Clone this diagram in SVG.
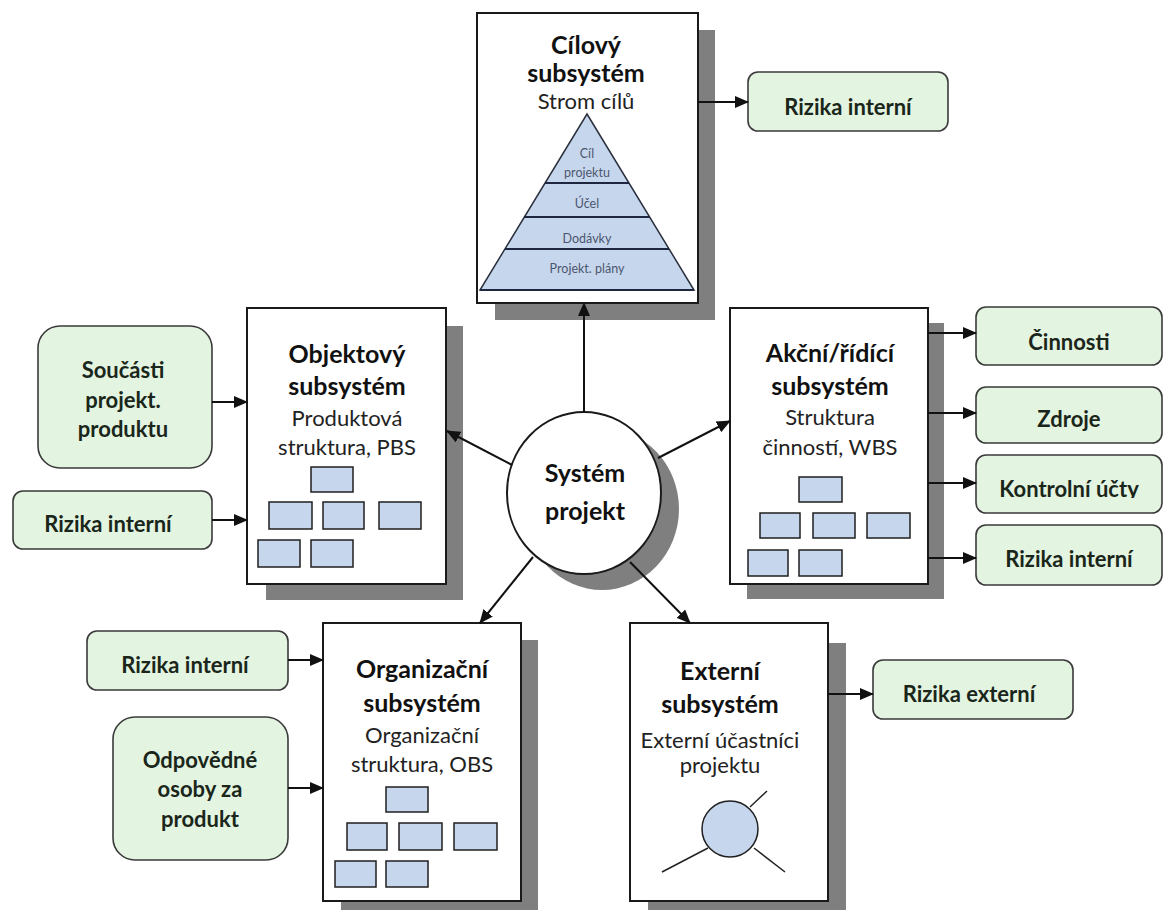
<svg xmlns="http://www.w3.org/2000/svg" width="1165" height="910" viewBox="0 0 1165 910">
  <style>
    .box { fill: #ffffff; stroke: #1a1a1a; stroke-width: 2; }
    .shadow { fill: #7f7f7f; }
    .green { fill: #e3f5e1; stroke: #3a3a3a; stroke-width: 1.6; }
    .mini { fill: #c6d6ec; stroke: #1f1f1f; stroke-width: 1.5; }
    .title { font-family: Lato, "Open Sans", sans-serif; font-weight: 700; font-size: 25px; fill: #111111; text-anchor: middle; }
    .sub { font-family: Lato, "Open Sans", sans-serif; font-size: 22px; fill: #222222; text-anchor: middle; }
    .gtext { font-family: Lato, "Open Sans", sans-serif; font-weight: 700; font-size: 22px; fill: #1b261b; text-anchor: middle; }
    .ptext { font-family: Lato, "Open Sans", sans-serif; font-size: 12.5px; fill: #4c5670; text-anchor: middle; }
    .conn line { stroke: #111111; stroke-width: 2; marker-end: url(#arrow); }
  </style>
  <defs>
    <marker id="arrow" markerUnits="userSpaceOnUse" markerWidth="14" markerHeight="12" refX="13" refY="6" orient="auto">
      <path d="M0,0 L14,6 L0,12 z" fill="#111111"/>
    </marker>
    <clipPath id="clipKontrol">
      <rect x="976" y="455" width="188" height="43"/>
    </clipPath>
  </defs>

  <rect width="1165" height="910" fill="#ffffff"/>

  <!-- Goal subsystem with pyramid -->
  <g id="cilovy">
    <rect class="shadow" x="495" y="30" width="220" height="290"/>
    <rect class="box" x="477" y="13" width="221" height="290"/>
    <text class="title" x="586" y="54" font-size="24">Cílový</text>
    <text class="title" x="586" y="82" font-size="24">subsystém</text>
    <text class="sub" x="586" y="109" font-size="20">Strom cílů</text>
    <polygon points="587,114 694,290 480,290" fill="#c6d6ec" stroke="#2a2f3c" stroke-width="1.5"/>
    <g stroke="#1f2740" stroke-width="2">
      <line x1="545" y1="183" x2="629" y2="183"/>
      <line x1="524" y1="217" x2="650" y2="217"/>
      <line x1="505" y1="249" x2="669" y2="249"/>
      <line x1="480" y1="290" x2="694" y2="290"/>
    </g>
    <text class="ptext" x="587" y="158">Cíl</text>
    <text class="ptext" x="587" y="177">projektu</text>
    <text class="ptext" x="587" y="208">Účel</text>
    <text class="ptext" x="587" y="243">Dodávky</text>
    <text class="ptext" x="587" y="273">Projekt. plány</text>
  </g>

  <g id="rizika-cil">
    <rect class="green" x="748" y="72" width="200" height="59" rx="10"/>
    <text class="gtext" x="848" y="115">Rizika interní</text>
  </g>

  <!-- Object subsystem -->
  <g id="objektovy">
    <rect class="shadow" x="266" y="326" width="197" height="274"/>
    <rect class="box" x="247" y="308" width="199" height="276"/>
    <text class="title" x="347" y="363">Objektový</text>
    <text class="title" x="347" y="395">subsystém</text>
    <text class="sub" x="347" y="426">Produktová</text>
    <text class="sub" x="347" y="455">struktura, PBS</text>
    <rect class="mini" x="311" y="467" width="42" height="25"/>
    <rect class="mini" x="269" y="502" width="43" height="27"/>
    <rect class="mini" x="323" y="502" width="41" height="27"/>
    <rect class="mini" x="379" y="502" width="42" height="27"/>
    <rect class="mini" x="258" y="540" width="42" height="27"/>
    <rect class="mini" x="311" y="540" width="42" height="27"/>
  </g>

  <g id="soucasti">
    <rect class="green" x="38" y="326" width="174" height="142" rx="22"/>
    <text class="gtext" x="123" y="378">Součásti</text>
    <text class="gtext" x="123" y="408">projekt.</text>
    <text class="gtext" x="123" y="437">produktu</text>
  </g>

  <g id="rizika-obj">
    <rect class="green" x="13" y="491" width="199" height="58" rx="10"/>
    <text class="gtext" x="108" y="532">Rizika interní</text>
  </g>

  <!-- Action / control subsystem -->
  <g id="akcni">
    <rect class="shadow" x="747" y="323" width="197" height="276"/>
    <rect class="box" x="730" y="308" width="198" height="276"/>
    <text class="title" x="830" y="362">Akční/řídící</text>
    <text class="title" x="830" y="395">subsystém</text>
    <text class="sub" x="830" y="425">Struktura</text>
    <text class="sub" x="830" y="455">činností, WBS</text>
    <rect class="mini" x="799" y="477" width="43" height="25"/>
    <rect class="mini" x="760" y="513" width="40" height="25"/>
    <rect class="mini" x="813" y="513" width="42" height="25"/>
    <rect class="mini" x="867" y="513" width="43" height="25"/>
    <rect class="mini" x="748" y="550" width="40" height="26"/>
    <rect class="mini" x="799" y="550" width="43" height="26"/>
  </g>

  <g id="cinnosti">
    <rect class="green" x="976" y="307" width="186" height="58" rx="10"/>
    <text class="gtext" x="1069" y="350">Činnosti</text>
  </g>
  <g id="zdroje">
    <rect class="green" x="976" y="387" width="186" height="56" rx="10"/>
    <text class="gtext" x="1069" y="427">Zdroje</text>
  </g>
  <g id="kontrolni">
    <rect class="green" x="976" y="455" width="186" height="58" rx="10"/>
    <text class="gtext" x="1069" y="497" clip-path="url(#clipKontrol)">Kontrolní účty</text>
  </g>
  <g id="rizika-akc">
    <rect class="green" x="976" y="525" width="186" height="60" rx="10"/>
    <text class="gtext" x="1069" y="567">Rizika interní</text>
  </g>

  <!-- Organisational subsystem -->
  <g id="organizacni">
    <rect class="shadow" x="341" y="640" width="197" height="275"/>
    <rect class="box" x="323" y="623" width="198" height="278"/>
    <text class="title" x="422" y="678">Organizační</text>
    <text class="title" x="422" y="712">subsystém</text>
    <text class="sub" x="422" y="743">Organizační</text>
    <text class="sub" x="422" y="772">struktura, OBS</text>
    <rect class="mini" x="386" y="787" width="42" height="25"/>
    <rect class="mini" x="347" y="823" width="40" height="27"/>
    <rect class="mini" x="399" y="823" width="43" height="27"/>
    <rect class="mini" x="454" y="823" width="43" height="27"/>
    <rect class="mini" x="335" y="861" width="41" height="26"/>
    <rect class="mini" x="386" y="861" width="42" height="26"/>
  </g>

  <g id="rizika-org">
    <rect class="green" x="87" y="631" width="201" height="59" rx="10"/>
    <text class="gtext" x="185" y="673">Rizika interní</text>
  </g>

  <g id="odpovedne">
    <rect class="green" x="113" y="717" width="175" height="143" rx="22"/>
    <text class="gtext" x="200" y="768">Odpovědné</text>
    <text class="gtext" x="200" y="797">osoby za</text>
    <text class="gtext" x="200" y="827">produkt</text>
  </g>

  <!-- External subsystem -->
  <g id="externi">
    <rect class="shadow" x="648" y="643" width="198" height="272"/>
    <rect class="box" x="630" y="623" width="198" height="278"/>
    <text class="title" x="720" y="680">Externí</text>
    <text class="title" x="720" y="713">subsystém</text>
    <text class="sub" x="720" y="748">Externí účastníci</text>
    <text class="sub" x="720" y="773">projektu</text>
    <g stroke="#222222" stroke-width="1.5">
      <line x1="750" y1="807" x2="767" y2="791"/>
      <line x1="708" y1="848" x2="662" y2="872"/>
      <line x1="754" y1="848" x2="785" y2="872"/>
    </g>
    <circle cx="730" cy="829" r="28" fill="#c6d6ec" stroke="#1f1f1f" stroke-width="1.5"/>
  </g>

  <g id="rizika-ext">
    <rect class="green" x="873" y="660" width="200" height="59" rx="10"/>
    <text class="gtext" x="969" y="702">Rizika externí</text>
  </g>

  <!-- Central system -->
  <g id="system">
    <ellipse cx="602" cy="509" rx="77" ry="81" fill="#7f7f7f"/>
    <ellipse cx="584" cy="493" rx="77" ry="81" fill="#ffffff" stroke="#1a1a1a" stroke-width="2"/>
    <text class="title" x="585" y="482" font-size="30">Systém</text>
    <text class="title" x="585" y="520" font-size="30">projekt</text>
  </g>

  <g id="connectors" class="conn">
    <line x1="584" y1="412" x2="584" y2="303"/>
    <line x1="698" y1="102" x2="748" y2="102"/>
    <line x1="512" y1="465" x2="447" y2="431"/>
    <line x1="212" y1="402" x2="247" y2="402"/>
    <line x1="212" y1="520" x2="247" y2="520"/>
    <line x1="658" y1="458" x2="730" y2="421"/>
    <line x1="928" y1="333" x2="976" y2="333"/>
    <line x1="928" y1="413" x2="976" y2="413"/>
    <line x1="928" y1="483" x2="976" y2="483"/>
    <line x1="928" y1="558" x2="976" y2="558"/>
    <line x1="533" y1="557" x2="480" y2="623"/>
    <line x1="288" y1="660" x2="323" y2="660"/>
    <line x1="288" y1="788" x2="323" y2="788"/>
    <line x1="630" y1="562" x2="690" y2="623"/>
    <line x1="828" y1="694" x2="873" y2="694"/>
  </g>
</svg>
